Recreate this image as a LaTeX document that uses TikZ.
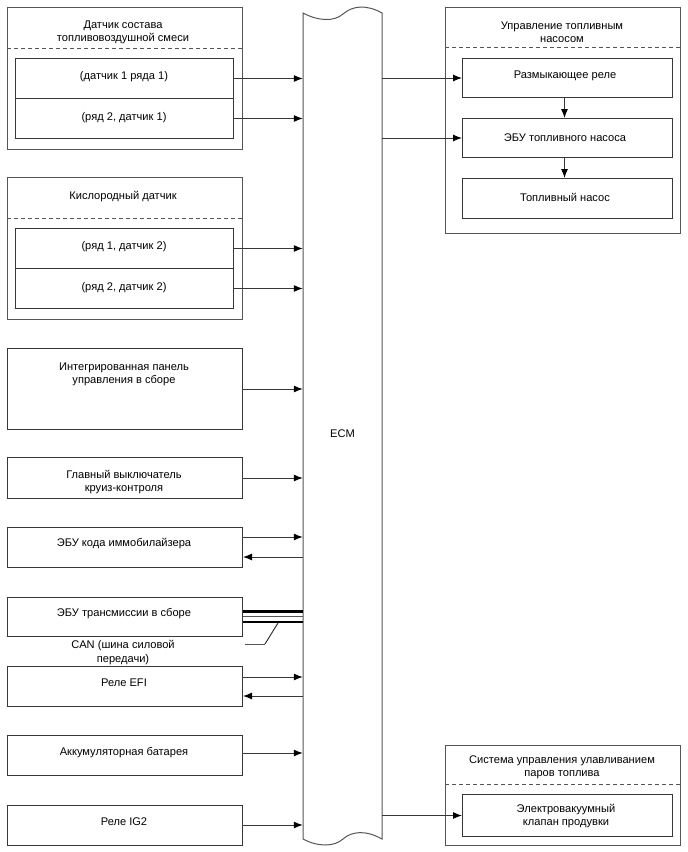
\documentclass[tikz,border=0pt]{standalone}
\usepackage{fontspec}
\setmainfont{Liberation Sans}
\usetikzlibrary{arrows.meta}
\definecolor{lc}{RGB}{85,85,85}
\definecolor{ic}{RGB}{55,55,55}
\begin{document}
\begin{tikzpicture}[x=1pt,y=-1pt,
  outerbox/.style={draw=lc, line width=1pt, inner sep=0pt, anchor=north west, minimum width=235pt},
  innerbox/.style={draw=ic, line width=1pt, inner sep=0pt, anchor=north west},
  lbl/.style={font=\fontsize{11.1}{13.4}\selectfont, align=center, inner sep=0pt, text=black},
  arr/.style={draw=ic, line width=1pt, -{Latex[length=9pt,width=7pt,color=black]}},
  dsh/.style={draw=lc, line width=1pt, dash pattern=on 4pt off 3pt},
  bus/.style={draw=black, line width=2.8pt}]
\useasboundingbox (0,0) rectangle (688,852);

% ECM
\node[minimum width=79pt, minimum height=826pt, inner sep=0pt] (ecm) at (342.5,426) {};
\draw[draw=lc, line width=1pt]
  (303,13) .. controls (318,21) and (334,22) .. (343,14)
  .. controls (352,6) and (366,4) .. (382,13)
  -- (382,839)
  .. controls (366,830) and (352,831) .. (343,839)
  .. controls (334,847) and (318,847) .. (303,839) -- cycle;
\node[lbl] (ecmlbl) at (342.5,434) {ECM};

% Box 1
\node[outerbox, minimum height=142pt] (g1) at (7,7) {};
\coordinate (g1dl) at (7,48); \coordinate (g1dr) at (242,48);
\draw[dsh] (g1dl) -- (g1dr);
\node[lbl] (g1t) at (123,32.5) {Датчик состава\\топливовоздушной смеси};
\node[innerbox, minimum width=218pt, minimum height=40pt] (s11) at (15,58) {};
\node[innerbox, minimum width=218pt, minimum height=40pt] (s12) at (15,98) {};
\node[lbl] (s11t) at (124,77) {(датчик 1 ряда 1)};
\node[lbl] (s12t) at (124,118) {(ряд 2, датчик 1)};

% Box 2
\node[outerbox, minimum height=142pt] (g2) at (7,177) {};
\coordinate (g2dl) at (7,218); \coordinate (g2dr) at (242,218);
\draw[dsh] (g2dl) -- (g2dr);
\node[lbl] (g2t) at (123,197) {Кислородный датчик};
\node[innerbox, minimum width=218pt, minimum height=40pt] (s21) at (15,228) {};
\node[innerbox, minimum width=218pt, minimum height=40pt] (s22) at (15,268) {};
\node[lbl] (s21t) at (124,247) {(ряд 1, датчик 2)};
\node[lbl] (s22t) at (124,288) {(ряд 2, датчик 2)};

% Simple boxes
\node[outerbox, draw=ic, minimum height=81pt] (p3) at (7,348) {};
\node[lbl] (p3t) at (124,374.5) {Интегрированная панель\\управления в сборе};
\node[outerbox, draw=ic, minimum height=41pt] (p4) at (7,457) {};
\node[lbl] (p4t) at (124,482) {Главный выключатель\\круиз-контроля};
\node[outerbox, draw=ic, minimum height=40pt] (p5) at (7,527) {};
\node[lbl] (p5t) at (124,544) {ЭБУ кода иммобилайзера};
\node[outerbox, draw=ic, minimum height=39pt] (p6) at (7,597) {};
\node[lbl] (p6t) at (124,614) {ЭБУ трансмиссии в сборе};
\node[lbl] (cant) at (123,652.5) {CAN (шина силовой\\передачи)};
\node[outerbox, draw=ic, minimum height=40pt] (p7) at (7,666) {};
\node[lbl] (p7t) at (124,683) {Реле EFI};
\node[outerbox, draw=ic, minimum height=40pt] (p8) at (7,735) {};
\node[lbl] (p8t) at (124,753) {Аккумуляторная батарея};
\node[outerbox, draw=ic, minimum height=40pt] (p9) at (7,805) {};
\node[lbl] (p9t) at (124,822) {Реле IG2};

% Right top group
\node[outerbox, minimum height=226pt] (r0) at (445,7) {};
\coordinate (r0dl) at (445,47); \coordinate (r0dr) at (680,47);
\draw[dsh] (r0dl) -- (r0dr);
\node[lbl] (r0t) at (562,32.5) {Управление топливным\\насосом};
\node[innerbox, minimum width=210pt, minimum height=39pt] (ra) at (462,58) {};
\node[innerbox, minimum width=210pt, minimum height=39pt] (rb) at (462,118) {};
\node[innerbox, minimum width=210pt, minimum height=40pt] (rc) at (462,178) {};
\node[lbl] (rat) at (565,76) {Размыкающее реле};
\node[lbl] (rbt) at (565,138) {ЭБУ топливного насоса};
\node[lbl] (rct) at (565,197) {Топливный насос};

% Right bottom group
\node[outerbox, minimum height=100pt] (v0) at (445,745) {};
\coordinate (v0dl) at (445,784); \coordinate (v0dr) at (680,784);
\draw[dsh] (v0dl) -- (v0dr);
\node[lbl] (v0t) at (562,767) {Система управления улавливанием\\паров топлива};
\node[innerbox, minimum width=210pt, minimum height=42pt] (rv) at (462,794) {};
\node[lbl] (rvt) at (566,816) {Электровакуумный\\клапан продувки};

% arrows to ECM
\draw[arr] (s11.east) -- (s11.east -| ecm.west);
\draw[arr] (s12.east) -- (s12.east -| ecm.west);
\draw[arr] (s21.east) -- (s21.east -| ecm.west);
\draw[arr] (s22.east) -- (s22.east -| ecm.west);
\draw[arr] (p3.east) -- (p3.east -| ecm.west);
\draw[arr] (p4.east) -- (p4.east -| ecm.west);
\coordinate (y5a) at (0,537); \coordinate (y5b) at (0,557);
\draw[arr] (p5.east |- y5a) -- (ecm.west |- y5a);
\draw[arr] (ecm.west |- y5b) -- (p5.east |- y5b);
\coordinate (y7a) at (0,677); \coordinate (y7b) at (0,696);
\draw[arr] (p7.east |- y7a) -- (ecm.west |- y7a);
\draw[arr] (ecm.west |- y7b) -- (p7.east |- y7b);
\coordinate (y8) at (0,753);
\draw[arr] (p8.east |- y8) -- (ecm.west |- y8);
\coordinate (y9) at (0,825);
\draw[arr] (p9.east |- y9) -- (ecm.west |- y9);

% CAN bus
\coordinate (b1) at (0,611.5); \coordinate (b2) at (0,616.5); \coordinate (b3) at (0,622);
\draw[bus] (p6.east |- b1) -- (ecm.west |- b1);
\draw[draw=lc, line width=1pt] (p6.east |- b2) -- (ecm.west |- b2);
\draw[bus] (p6.east |- b3) -- (ecm.west |- b3);
\coordinate (canp) at (278,623); \coordinate (cank) at (265,644); \coordinate (cane) at (245,644);
\draw[draw=ic, line width=1pt] (canp) -- (cank);
\draw[draw=lc, line width=1pt] (cank) -- (cane);

% ECM outputs
\draw[arr] (ecm.east |- ra.west) -- (ra.west);
\draw[arr] (ecm.east |- rb.west) -- (rb.west);
\draw[arr] (ecm.east |- rv.west) -- (rv.west);
\draw[arr] ([xshift=-3pt]ra.south) -- ([xshift=-3pt]rb.north);
\draw[arr] ([xshift=-3pt]rb.south) -- ([xshift=-3pt]rc.north);
\end{tikzpicture}
\end{document}
